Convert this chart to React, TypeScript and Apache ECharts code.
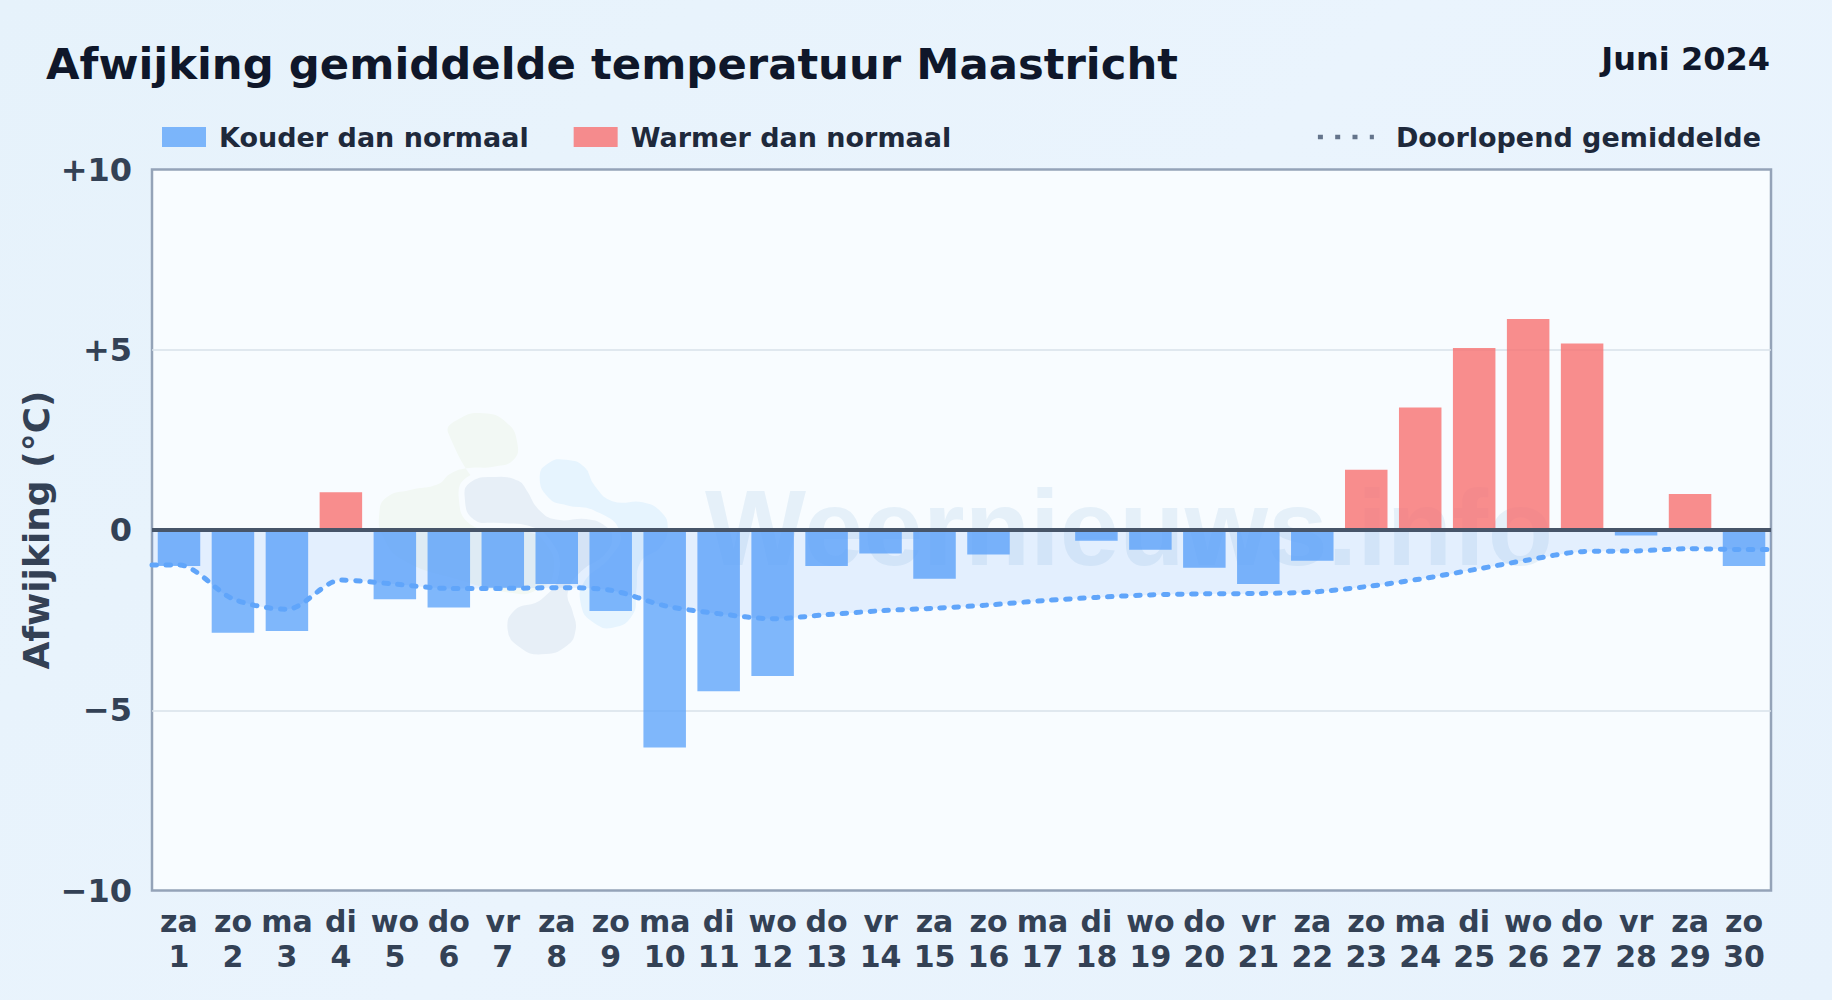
import React, { useEffect, useRef } from "react";
import * as echarts from "echarts";

const weekdays = ["za","zo","ma","di","wo","do","vr","za","zo","ma","di","wo","do","vr","za","zo","ma","di","wo","do","vr","za","zo","ma","di","wo","do","vr","za","zo"];
const deviations = [-1.0,-2.85,-2.8,1.05,-1.92,-2.15,-1.6,-1.5,-2.25,-6.03,-4.47,-4.05,-1.0,-0.65,-1.35,-0.68,-0.05,-0.3,-0.55,-1.05,-1.5,-0.85,1.67,3.4,5.05,5.85,5.17,-0.15,1.0,-1.0];
const runningMean = [-0.97,-1.91,-2.2,-1.39,-1.5,-1.62,-1.62,-1.6,-1.67,-2.1,-2.32,-2.46,-2.35,-2.24,-2.17,-2.08,-1.96,-1.87,-1.8,-1.77,-1.76,-1.72,-1.57,-1.36,-1.1,-0.83,-0.6,-0.58,-0.52,-0.54];
const yTicks: Record<string, string> = { "10": "+10", "5": "+5", "0": "0", "-5": "\u22125", "-10": "\u221210" };

const FONT = "DejaVu Sans";
const COLD = "Kouder dan normaal";
const WARM = "Warmer dan normaal";
const MEAN = "Doorlopend gemiddelde";
const HALO = "#f8fcff";

const blob = (pts: number[][]) => pts.map(([x, y]) => [360 + x / 3, 400 + y / 3]);
const greenBlob = blob([[265,100],[295,58],[370,40],[440,68],[472,130],[460,180],[400,200],[320,205],[270,222],[235,252],[150,270],[80,292],[58,340],[70,410],[130,480],[300,540],[450,578],[530,570],[600,500],[560,400],[400,300]]);
const grayBlob = blob([[305,290],[325,240],[400,222],[480,235],[510,270],[540,320],[590,350],[680,348],[740,370],[765,410],[740,470],[670,520],[632,580],[646,630],[656,690],[625,745],[545,772],[475,750],[434,690],[460,622],[540,590],[590,510],[560,420],[500,385],[420,378],[335,365]]);
const blueBlob = blob([[530,230],[560,182],[620,170],[680,195],[710,250],[760,295],[850,298],[910,330],[932,385],[905,450],[850,490],[838,570],[825,650],[760,692],[695,675],[655,620],[665,540],[740,470],[772,400],[700,340],[620,325],[560,300]]);

export default function App() {
  const ref = useRef<HTMLDivElement>(null);
  useEffect(() => {
    if (!ref.current) return;
    const chart = echarts.init(ref.current, undefined, { renderer: "svg" });
    const blobEl = (points: number[][], fill: string, halo: boolean) => ({
      type: "polygon", z: 1, silent: true,
      shape: { points, smooth: 0.5 },
      style: { fill, stroke: halo ? HALO : undefined, lineWidth: halo ? 6 : 0 },
    });
    chart.setOption({
      animation: false,
      textStyle: { fontFamily: FONT },
      title: [
        { text: "Afwijking gemiddelde temperatuur Maastricht", left: 46, top: 42, padding: 0,
          textStyle: { fontFamily: FONT, fontSize: 43.35, fontWeight: "bold", color: "#0f172a" } },
        { text: "Juni 2024", right: 62, top: 43, padding: 0,
          textStyle: { fontFamily: FONT, fontSize: 32, fontWeight: "bold", color: "#0f172a" } },
      ],
      legend: [
        { data: [COLD, WARM], left: 162, top: 123.5, padding: 0, itemGap: 45, itemWidth: 44, itemHeight: 20, icon: "rect",
          textStyle: { fontFamily: FONT, fontSize: 27, fontWeight: "bold", color: "#1e293b", padding: [0, 0, 0, 8] } },
        { data: [MEAN], right: 71, top: 123.5, padding: 0, itemWidth: 56, itemHeight: 20,
          lineStyle: { color: "#64748b", type: [5, 12.3], width: 4.5, cap: "butt" },
          itemStyle: { opacity: 0 },
          textStyle: { fontFamily: FONT, fontSize: 27, fontWeight: "bold", color: "#1e293b", padding: [0, 0, 0, 17] } },
      ],
      grid: { left: 152, top: 169.5, width: 1619, height: 721, outerBoundsMode: "none", show: true, backgroundColor: HALO, borderColor: "#94a3b8", borderWidth: 2.5 },
      xAxis: [
        { type: "category", data: weekdays.map((d, i) => `${d}\n${i + 1}`),
          axisLine: { show: false }, axisTick: { show: false }, splitLine: { show: false },
          axisLabel: { interval: 0, margin: 13, fontFamily: FONT, fontSize: 30, fontWeight: "bold", color: "#334155", lineHeight: 35 } },
        { type: "value", min: 0, max: 30, show: false, splitLine: { show: false } },
      ],
      yAxis: {
        type: "value", min: -10, max: 10, interval: 5,
        name: "Afwijking (\u00b0C)", nameLocation: "middle", nameGap: 98, nameRotate: 90, nameMoveOverlap: false,
        nameTextStyle: { fontFamily: FONT, fontSize: 36, fontWeight: "bold", color: "#334155" },
        axisLine: { show: false }, axisTick: { show: false },
        splitLine: { showMinLine: false, showMaxLine: false, lineStyle: { color: "#d9e2ea", width: 1.5 } },
        axisLabel: { margin: 20, fontFamily: FONT, fontSize: 32, fontWeight: "bold", color: "#334155",
          formatter: (v: number) => yTicks[String(v)] ?? String(v) },
      },
      graphic: [
        blobEl(greenBlob, "#f2f8f4", false),
        blobEl(blueBlob, "#e6f4fe", true),
        blobEl(grayBlob, "#e7eff7", true),
        { type: "text", z: 1, silent: true, x: 705, y: 581,
          style: { text: "Weernieuws.info", fontFamily: "Liberation Sans", fontWeight: "bold", fontSize: 107,
            verticalAlign: "bottom", fill: "#e5f0f9" } },
      ],
      series: [
        { name: COLD, type: "bar", stack: "d", barWidth: 42.5, itemStyle: { color: "rgba(96,165,250,0.8)" },
          data: deviations.map((v) => (v < 0 ? v : null)),
          markLine: { silent: true, symbol: "none", label: { show: false }, z: 6,
            lineStyle: { color: "#475569", width: 4, type: "solid" }, data: [{ yAxis: 0 }] } },
        { name: WARM, type: "bar", stack: "d", barWidth: 42.5, itemStyle: { color: "rgba(248,113,113,0.8)" },
          data: deviations.map((v) => (v >= 0 ? v : null)) },
        { name: MEAN, type: "line", xAxisIndex: 1, yAxisIndex: 0, symbol: "none", smooth: 0.3, z: 4,
          lineStyle: { color: "#60a5fa", width: 5, type: [4.5, 9.5], cap: "round" },
          areaStyle: { color: "rgba(59,130,246,0.15)" },
          data: [[0, runningMean[0]], ...runningMean.map((v, i) => [i + 0.5, v]), [30, runningMean[29]]] },
      ],
    });
    return () => chart.dispose();
  }, []);
  return (
    <div
      ref={ref}
      style={{ position: "fixed", left: 0, top: 0, width: 1832, height: 1000,
        background: "linear-gradient(135deg,#e6f2fb 0%,#eaf4fd 50%,#e7f2fc 100%)" }}
    />
  );
}
